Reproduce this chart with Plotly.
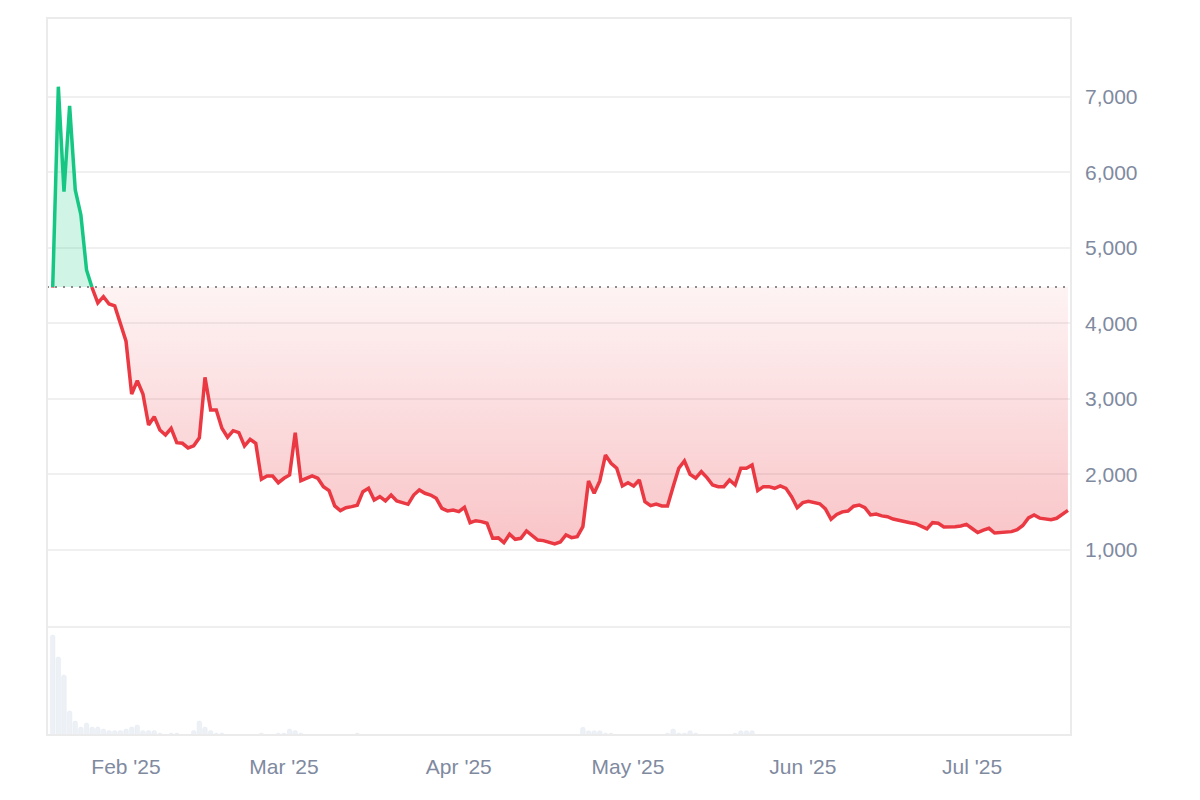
import numpy as np
import pandas as pd
import plotly.graph_objects as go

start_date = "2025-01-19"
baseline = 4483

price = [
    4475, 7136, 5746, 6881, 5768, 5437, 4709, 4470, 4272, 4355,
    4258, 4232, 4000, 3765, 3066, 3242, 3066, 2656, 2765, 2589,
    2523, 2612, 2422, 2413, 2352, 2380, 2485, 3287, 2854, 2854,
    2612, 2493, 2580, 2554, 2377, 2466, 2413, 1937, 1980, 1980,
    1891, 1950, 1993, 2554, 1918, 1950, 1980, 1950, 1839, 1786,
    1583, 1521, 1560, 1574, 1592, 1773, 1817, 1662, 1706, 1649,
    1728, 1649, 1627, 1605, 1728, 1795, 1751, 1728, 1684, 1552,
    1517, 1530, 1508, 1566, 1362, 1388, 1376, 1354, 1155, 1160,
    1097, 1210, 1142, 1155, 1252, 1199, 1132, 1124, 1102, 1080,
    1106, 1199, 1164, 1177, 1310, 1914, 1751, 1914, 2258, 2148,
    2082, 1848, 1891, 1848, 1927, 1640, 1587, 1609, 1583, 1583,
    1839, 2082, 2179, 2003, 1950, 2037, 1958, 1861, 1839, 1839,
    1927, 1861, 2082, 2082, 2126, 1786, 1839, 1839, 1817, 1848,
    1817, 1706, 1560, 1627, 1645, 1625, 1612, 1545, 1406, 1470,
    1505, 1515, 1580, 1596, 1560, 1464, 1477, 1452, 1441, 1410,
    1390, 1370, 1362, 1348, 1315, 1280, 1362, 1354, 1305, 1301,
    1307, 1318, 1340, 1285, 1230, 1262, 1287, 1225, 1230, 1240,
    1243, 1268, 1325, 1425, 1464, 1422, 1412, 1400, 1420, 1470,
    1525,
]

volume = [
    100, 78, 60, 24, 14, 8, 12, 8, 8, 6,
    4.5, 4.5, 4.5, 6, 8, 10, 4.5, 4.5, 4.5, 2,
    0, 2, 2, 0, 0, 4.5, 14, 8, 4.5, 2,
    2, 0, 0, 0, 0, 0, 0, 2, 0, 0,
    2, 2, 6, 4.5, 2, 0, 0, 0, 0, 0,
    0, 0, 0, 0, 2, 0, 0, 0, 0, 0,
    0, 0, 0, 0, 0, 0, 0, 0, 0, 0,
    0, 0, 0, 0, 0, 0, 0, 0, 0, 0,
    0, 0, 0, 0, 0, 0, 0, 0, 0, 0,
    0, 0, 0, 0, 7.7, 4.3, 4.3, 4.3, 2, 2,
    0, 0, 0, 0, 0, 0, 0, 0, 0, 2,
    6, 2, 2, 4.3, 2, 0, 0, 0, 0, 0,
    0, 2, 4.3, 4.3, 4.3, 0, 0, 0, 0, 0,
    0, 0, 0, 0, 0, 0, 0, 0, 0, 0,
    0, 0, 0, 0, 0, 0, 0, 0, 0, 0,
    0, 0, 0, 0, 0, 0, 0, 0, 0, 0,
    0, 0, 0, 0, 0, 0, 0, 0, 0, 0,
    0, 0, 0, 0, 0, 0, 0, 0, 0, 0,
    0,
]

y_ticks = [1000, 2000, 3000, 4000, 5000, 6000, 7000]

GREEN = "#16c784"
RED = "#ea3943"
TEXT = "#808a9f"
FONT = "Arial, Liberation Sans, sans-serif"

dates = pd.date_range(start_date, periods=len(price), freq="D")

# insert baseline crossing points so colours split exactly at the baseline
xs, ys = [], []
for i in range(len(price)):
    if i > 0:
        a, b = price[i - 1] - baseline, price[i] - baseline
        if a * b < 0:
            f = a / (a - b)
            xs.append(dates[i - 1] + (dates[i] - dates[i - 1]) * f)
            ys.append(baseline)
    xs.append(dates[i])
    ys.append(price[i])
ys = np.array(ys, dtype=float)
up_line = np.where(ys >= baseline, ys, np.nan)
dn_line = np.where(ys <= baseline, ys, np.nan)
up_fill = np.maximum(ys, baseline)
dn_fill = np.minimum(ys, baseline)
base_arr = np.full(len(ys), baseline, dtype=float)

fig = go.Figure()

fig.add_trace(go.Bar(x=dates, y=volume, yaxis="y2", marker=dict(color="#edf0f4", cornerradius=2),
                     hoverinfo="skip"))

fig.add_trace(go.Scatter(x=xs, y=base_arr, mode="lines", line=dict(width=0), hoverinfo="skip"))
fig.add_trace(go.Scatter(x=xs, y=up_fill, mode="lines", line=dict(width=0), fill="tonexty",
                         fillcolor="rgba(22,199,132,0.2)", hoverinfo="skip"))
fig.add_trace(go.Scatter(x=xs, y=base_arr, mode="lines", line=dict(width=0), hoverinfo="skip"))
fig.add_trace(go.Scatter(x=xs, y=dn_fill, mode="lines", line=dict(width=0), fill="tonexty",
                         fillgradient=dict(type="vertical",
                                           colorscale=[[0, "rgba(234,57,67,0.30)"],
                                                       [1, "rgba(234,57,67,0.06)"]],
                                           start=1000, stop=baseline),
                         hoverinfo="skip"))
fig.add_trace(go.Scatter(x=xs, y=up_line, mode="lines", line=dict(color=GREEN, width=3.5),
                         connectgaps=False))
fig.add_trace(go.Scatter(x=xs, y=dn_line, mode="lines", line=dict(color=RED, width=3.5),
                         connectgaps=False))

vol_frac = 108 / 717

fig.update_layout(
    width=1200, height=800,
    margin=dict(l=39, r=137, t=10, b=73),
    plot_bgcolor="white", paper_bgcolor="white",
    showlegend=False, bargap=0.18,
    font=dict(family=FONT, size=21, color=TEXT),
    xaxis=dict(type="date", range=["2025-01-17 23:45", "2025-07-18 13:00"], anchor="y2",
               showgrid=False, zeroline=False, showline=False,
               tickformat="%b '%y", dtick="M1", tick0="2025-02-01",
               ticks="", ticklabelstandoff=17,
               tickfont=dict(family=FONT, size=21, color=TEXT)),
    yaxis=dict(domain=[vol_frac, 1], range=[-20, 8046], side="right", anchor="x",
               tickvals=y_ticks, tickformat=",", showgrid=True, gridcolor="#f0f0f0", gridwidth=2,
               zeroline=False, showline=False, ticks="", ticklabelstandoff=13,
               tickfont=dict(family=FONT, size=21, color=TEXT)),
    yaxis2=dict(domain=[0, vol_frac], range=[0, 108], showgrid=False, zeroline=False,
                showticklabels=False, showline=False),
    shapes=[
        dict(type="line", xref="paper", yref="y", x0=0, x1=1, y0=baseline, y1=baseline,
             line=dict(color="#8c8c8c", width=2, dash="2px,6px")),
        dict(type="line", xref="paper", yref="paper", x0=0, x1=1, y0=vol_frac, y1=vol_frac,
             line=dict(color="#eeeeee", width=2)),
        dict(type="rect", xref="paper", yref="paper", x0=0, x1=1, y0=0, y1=1,
             line=dict(color="#ebebeb", width=2)),
    ],
)

fig.write_html("out.html")
